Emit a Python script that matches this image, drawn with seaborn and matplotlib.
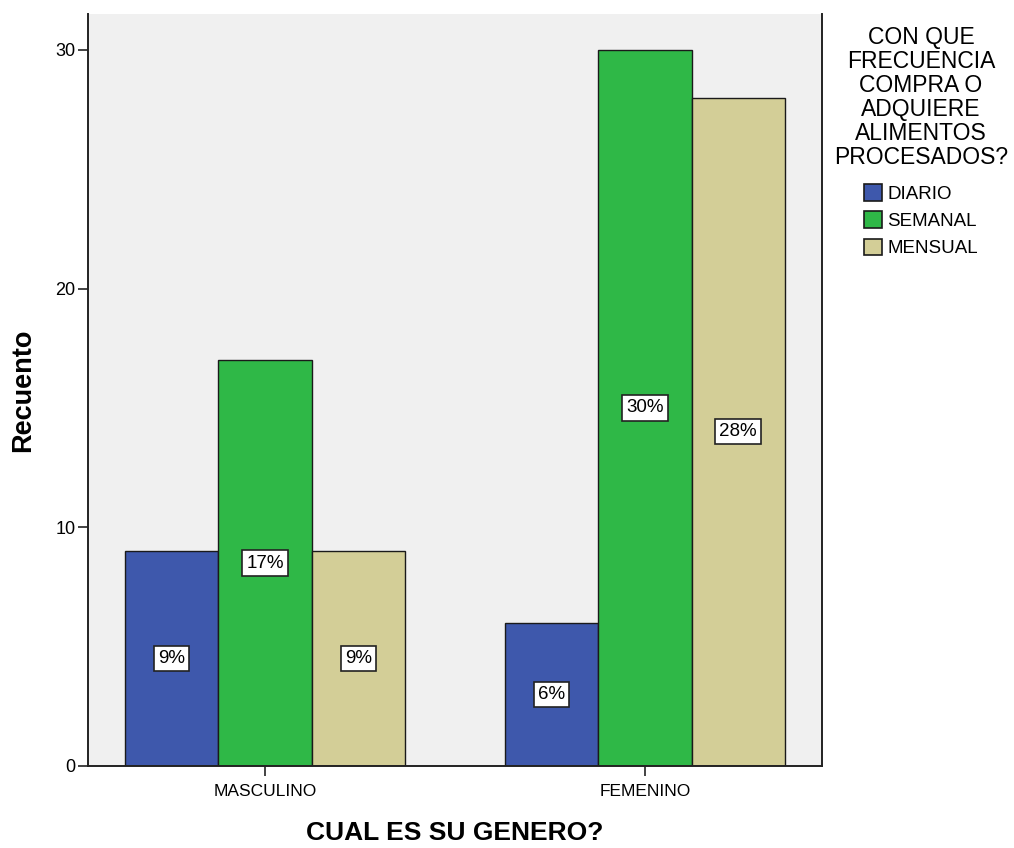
import matplotlib
matplotlib.use("Agg")
import matplotlib.pyplot as plt
from matplotlib.patches import Patch
import seaborn as sns
import pandas as pd

# Survey counts by gender and purchase frequency
generos = ["MASCULINO", "FEMENINO"]
frecuencias = ["DIARIO", "SEMANAL", "MENSUAL"]
diario = [9, 6]
semanal = [17, 30]
mensual = [9, 28]
colores = ["#3E58AC", "#2FB847", "#D3CE97"]
yticks = [0, 10, 20, 30]
titulo_leyenda = "CON QUE\nFRECUENCIA\nCOMPRA O\nADQUIERE\nALIMENTOS\nPROCESADOS?"

rows = []
for serie, vals in zip(frecuencias, [diario, semanal, mensual]):
    for g, v in zip(generos, vals):
        rows.append({"genero": g, "frecuencia": serie, "recuento": v})
df = pd.DataFrame(rows)
total = df["recuento"].sum()

sns.set_theme(style="white")
plt.rcParams["font.family"] = ["Liberation Sans", "DejaVu Sans"]
plt.rcParams.update({"text.color": "black", "axes.labelcolor": "black",
                     "xtick.color": "#222222", "ytick.color": "#222222",
                     "xtick.labelcolor": "black", "ytick.labelcolor": "black"})

fig = plt.figure(figsize=(10.14, 8.48), dpi=100)
ax = fig.add_axes([88 / 1014, 1 - 766 / 848, (822 - 88) / 1014, (766 - 14) / 848])
ax.set_facecolor("#F0F0F0")

sns.barplot(data=df, x="genero", y="recuento", hue="frecuencia",
            order=generos, hue_order=frecuencias, palette=colores,
            width=0.739, saturation=1, edgecolor="#1a1a1a", linewidth=1.0,
            errorbar=None, legend=False, ax=ax)

# Percentage labels at mid-height of each bar
for container in ax.containers:
    for bar in container:
        h = bar.get_height()
        pct = round(h / total * 100)
        ax.text(bar.get_x() + bar.get_width() / 2, h / 2, f"{pct}%",
                ha="center", va="center", fontsize=13.5, color="black",
                bbox=dict(boxstyle="square,pad=0.22", facecolor="white",
                          edgecolor="#222222", linewidth=1.2))

ax.set_xlim(-0.467, 1.467)
ax.set_ylim(0, 31.5)
ax.set_yticks(yticks)
ax.set_yticklabels([str(t) for t in yticks], fontsize=13)
ax.tick_params(axis="x", labelsize=12.5, length=7, width=1.2, direction="out",
               bottom=True, pad=6)
ax.tick_params(axis="y", length=7, width=1.2, direction="out", left=True, pad=2)

for side in ["left", "bottom", "right"]:
    ax.spines[side].set_visible(True)
    ax.spines[side].set_color("#222222")
    ax.spines[side].set_linewidth(1.4)
ax.spines["top"].set_visible(False)

ax.set_xlabel("CUAL ES SU GENERO?", fontsize=19, fontweight="bold", labelpad=16)
ax.set_ylabel("Recuento", fontsize=19.5, fontweight="bold", labelpad=14)

# Legend title drawn as its own centred block, entries listed below it
fig.text(921 / 1014, 1 - 26 / 848, titulo_leyenda, ha="center", va="top",
         fontsize=16.5, linespacing=1.05, multialignment="center")
handles = [Patch(facecolor=c, edgecolor="#1a1a1a", linewidth=1.2) for c in colores]
fig.legend(handles, frecuencias,
           loc="upper left", bbox_to_anchor=(864 / 1014, 1 - 184 / 848),
           frameon=False, fontsize=13.5,
           handlelength=0.95, handleheight=1.0, handletextpad=0.3,
           labelspacing=0.45, borderpad=0, borderaxespad=0)

fig.savefig("out.png", dpi=100)
